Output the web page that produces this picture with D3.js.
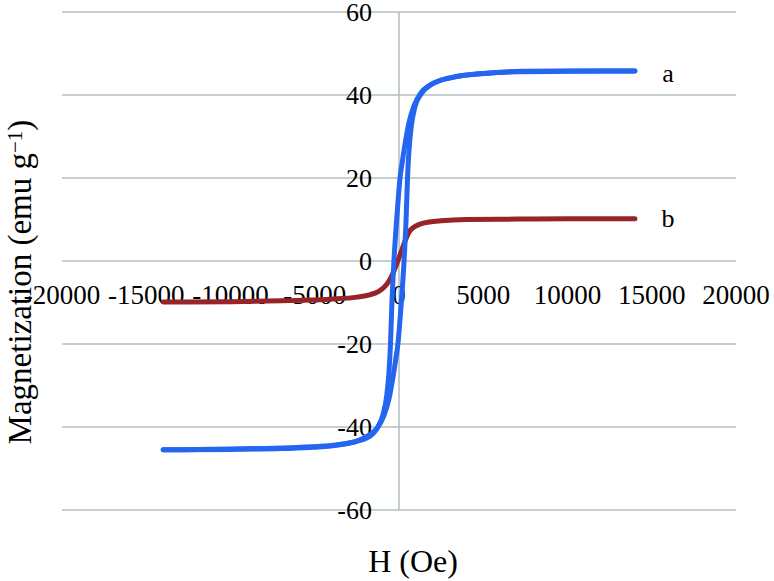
<!DOCTYPE html>
<html>
<head>
<meta charset="utf-8">
<script src="https://cdn.jsdelivr.net/npm/d3@7"></script>
<style>
  body { margin: 0; background: #fff; }
</style>
</head>
<body>
<div class="chart"></div>
<script>
// data
var xTicks = [-20000, -15000, -10000, -5000, 0, 5000, 10000, 15000, 20000];
var yTicks = [-60, -40, -20, 0, 20, 40, 60];

// sample a, descending branch (listed by increasing H)
var aDownH = [-14000, -10000, -6500, -4500, -2900, -1720, -1230, -950, -730, -600, -505, -420, -300, -100, 60, 200, 350, 600, 900, 1300, 1800, 2500, 3500, 5000, 7000, 10000, 14000];
var aDownM = [-45.5, -45.3, -45.0, -44.6, -43.8, -42.2, -39.8, -37.0, -32.5, -27.0, -20.0, -10.0, 0, 12.0, 20.0, 24.0, 28.0, 33.5, 37.5, 40.5, 42.3, 43.6, 44.5, 45.2, 45.6, 45.7, 45.8];
// sample a, ascending branch
var aUpH = [-14000, -10000, -7000, -5000, -3500, -2500, -1800, -1300, -900, -600, -350, -200, -60, 100, 300, 420, 505, 600, 730, 950, 1300, 1940, 3130, 5100, 7280, 10000, 14000];
var aUpM = [-45.5, -45.4, -45.2, -44.9, -44.3, -43.4, -42.0, -40.3, -37.3, -33.3, -27.8, -23.8, -19.8, -12.0, 0, 10.0, 20.0, 27.0, 32.5, 37.2, 40.2, 42.6, 44.2, 45.2, 45.7, 45.8, 45.8];

// sample b
var bH = [-14000, -10000, -7000, -4100, -2500, -1700, -1200, -900, -600, -400, -200, 0, 200, 400, 600, 900, 1250, 1800, 2500, 4000, 7000, 10000, 14000];
var bM = [-9.9, -9.8, -9.6, -9.2, -8.7, -8.1, -7.3, -6.4, -4.9, -3.3, -1.4, 0.8, 3.0, 5.2, 7.0, 8.2, 8.9, 9.4, 9.7, 10.0, 10.1, 10.2, 10.2];

var width = 774, height = 581;
var serif = "'Liberation Serif', Tinos, 'Times New Roman', Times, 'Nimbus Roman', 'DejaVu Serif', serif";

var svg = d3.select(".chart")
  .append("svg")
    .attr("width", width)
    .attr("height", height)
    .attr("font-family", serif)
    .style("font-family", serif);

var x = d3.scaleLinear().domain([-20000, 20000]).range([62, 736]);
var y = d3.scaleLinear().domain([-60, 60]).range([510, 12]);

var gridColor = "#b5c1c1";

// horizontal gridlines
svg.append("g")
  .selectAll("line")
  .data(yTicks)
  .enter().append("line")
    .attr("x1", x(-20000))
    .attr("x2", x(20000))
    .attr("y1", function(d){ return y(d); })
    .attr("y2", function(d){ return y(d); })
    .attr("stroke", gridColor)
    .attr("stroke-width", 1.6);

// vertical axis at H = 0
svg.append("line")
  .attr("x1", x(0)).attr("x2", x(0))
  .attr("y1", y(60)).attr("y2", y(-60))
  .attr("stroke", gridColor)
  .attr("stroke-width", 1.6);

// y tick labels
svg.append("g")
  .selectAll("text")
  .data(yTicks)
  .enter().append("text")
    .attr("x", 372)
    .attr("y", function(d){ return y(d); })
    .attr("dy", "0.36em")
    .attr("text-anchor", "end")
    .style("font-size", "26px")
    .text(function(d){ return d; });

// x tick labels
svg.append("g")
  .selectAll("text")
  .data(xTicks)
  .enter().append("text")
    .attr("x", function(d){ return x(d); })
    .attr("y", y(0) + 43)
    .attr("text-anchor", "middle")
    .style("font-size", "27px")
    .text(function(d){ return d; });

// curves
var pts = function(hs, ms){
  return hs.map(function(h, i){ return [h, ms[i]]; });
};
var line = d3.line()
  .x(function(d){ return x(d[0]); })
  .y(function(d){ return y(d[1]); })
  .curve(d3.curveMonotoneX);

var curves = [
  {data: pts(bH, bM), color: "#982329"},
  {data: pts(aDownH, aDownM), color: "#2466f0"},
  {data: pts(aUpH, aUpM), color: "#2466f0"}
];

svg.append("g")
  .selectAll("path")
  .data(curves)
  .enter().append("path")
    .attr("d", function(d){ return line(d.data); })
    .attr("fill", "none")
    .attr("stroke", function(d){ return d.color; })
    .attr("stroke-width", 5)
    .attr("stroke-linecap", "round")
    .attr("stroke-linejoin", "round");

// curve labels
svg.append("text").attr("x", 668).attr("y", 82)
  .attr("text-anchor", "middle").style("font-size", "26px").text("a");
svg.append("text").attr("x", 668).attr("y", 227)
  .attr("text-anchor", "middle").style("font-size", "26px").text("b");

// axis titles
svg.append("text")
  .attr("x", 413).attr("y", 572)
  .attr("text-anchor", "middle")
  .style("font-size", "32px")
  .text("H (Oe)");

var yTitle = svg.append("text")
  .attr("transform", "translate(31,282) rotate(-90)")
  .attr("text-anchor", "middle")
  .style("font-size", "33px");
yTitle.append("tspan").text("Magnetization (emu g");
yTitle.append("tspan").attr("dy", "-0.45em").style("font-size", "21px").text("\u22121");
yTitle.append("tspan").attr("dy", "0.3em").text(")");
</script>
</body>
</html>
